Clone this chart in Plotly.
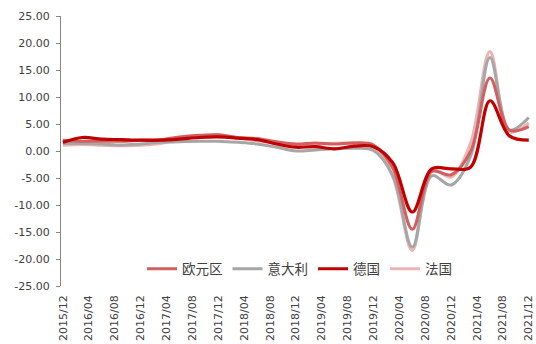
import plotly.graph_objects as go

# Quarterly real GDP growth, year on year (%), 2015Q4 - 2021Q4
quarters = ["2015/12", "2016/03", "2016/06", "2016/09", "2016/12",
            "2017/03", "2017/06", "2017/09", "2017/12",
            "2018/03", "2018/06", "2018/09", "2018/12",
            "2019/03", "2019/06", "2019/09", "2019/12",
            "2020/03", "2020/06", "2020/09", "2020/12",
            "2021/03", "2021/06", "2021/09", "2021/12"]

euro_area = [2.0, 1.8, 1.8, 1.8, 2.0, 2.1, 2.6, 2.9, 3.0, 2.5, 2.3, 1.7, 1.3,
             1.5, 1.3, 1.5, 1.1, -3.2, -14.5, -3.8, -4.4, -0.1, 13.5, 3.9, 4.5]
italy = [1.4, 1.4, 1.3, 1.1, 1.3, 1.6, 1.7, 1.8, 1.8, 1.6, 1.3, 0.7, 0.0,
         0.2, 0.4, 0.5, 0.1, -4.6, -17.8, -4.6, -6.3, -1.0, 17.3, 3.9, 6.2]
germany = [1.6, 2.5, 2.2, 2.1, 2.0, 2.0, 2.2, 2.5, 2.6, 2.4, 2.1, 1.3, 0.7,
           0.8, 0.4, 0.9, 0.8, -2.2, -11.3, -3.3, -3.3, -3.0, 9.3, 2.8, 2.0]
france = [1.1, 1.2, 1.1, 1.0, 1.1, 1.4, 2.3, 2.8, 3.0, 2.4, 1.9, 1.6, 1.1,
          1.3, 1.4, 1.5, 0.8, -4.8, -18.4, -3.5, -4.8, 1.4, 18.4, 3.6, 5.2]

x_tick_labels = ["2015/12", "2016/04", "2016/08", "2016/12", "2017/04",
                 "2017/08", "2017/12", "2018/04", "2018/08", "2018/12",
                 "2019/04", "2019/08", "2019/12", "2020/04", "2020/08",
                 "2020/12", "2021/04", "2021/08", "2021/12"]
y_tick_values = [25, 20, 15, 10, 5, 0, -5, -10, -15, -20, -25]
y_tick_labels = ["25.00", "20.00", "15.00", "10.00", "5.00", "0.00",
                 "-5.00", "-10.00", "-15.00", "-20.00", "-25.00"]


def month_index(label):
    y, m = label.split("/")
    return (int(y) - 2015) * 12 + int(m) - 12


xs = [month_index(q) for q in quarters]
x_tick_pos = [month_index(t) for t in x_tick_labels]
x_range = [-0.3, 72.5]

# name, values, colour, width, legend position; drawn back to front
series = [
    ("法国", france, "#EDB4B4", 3.2, 4),
    ("意大利", italy, "#A6A6A6", 3.0, 2),
    ("欧元区", euro_area, "#D25F5F", 3.0, 1),
    ("德国", germany, "#C00000", 3.2, 3),
]

fig = go.Figure()
for name, vals, color, width, rank in series:
    fig.add_trace(go.Scatter(
        x=xs, y=vals, name=name, mode="lines",
        line=dict(color=color, width=width, shape="spline", smoothing=1.0),
        legendrank=rank,
    ))

axis_grey = "#868686"
tick_font = dict(family="DejaVu Sans", size=11, color="#404040")

fig.update_layout(
    width=536, height=344,
    margin=dict(l=61, r=1, t=16, b=58),
    paper_bgcolor="white", plot_bgcolor="white",
    showlegend=True,
    legend=dict(
        orientation="h", x=0.172, xanchor="left", y=0.063, yanchor="middle",
        font=dict(family="Noto Sans CJK SC", size=13.5, color="#404040"),
        bgcolor="rgba(0,0,0,0)", traceorder="normal",
    ),
    xaxis=dict(
        range=x_range, showgrid=False, zeroline=False, showline=False,
        ticks="", tickmode="array", tickvals=x_tick_pos,
        ticktext=x_tick_labels, tickangle=-90, tickfont=tick_font,
        ticklabelstandoff=6, ticklabeloverflow="allow",
    ),
    # horizontal axis line through zero, carrying the tick marks
    xaxis2=dict(
        overlaying="x", anchor="free", position=0.5, side="bottom",
        range=x_range, showgrid=False, zeroline=False,
        showline=True, linecolor=axis_grey, linewidth=1,
        ticks="outside", ticklen=4, tickcolor=axis_grey,
        tickmode="array", tickvals=[p - 0.4 for p in x_tick_pos[1:]],
        showticklabels=False,
    ),
    yaxis=dict(
        range=[-25, 25], showgrid=False, zeroline=False,
        showline=True, linecolor=axis_grey, linewidth=1,
        ticks="outside", ticklen=4, tickcolor=axis_grey,
        tickmode="array", tickvals=y_tick_values, ticktext=y_tick_labels,
        tickfont=tick_font, ticklabelstandoff=4,
    ),
)

fig.write_html("out.html")
